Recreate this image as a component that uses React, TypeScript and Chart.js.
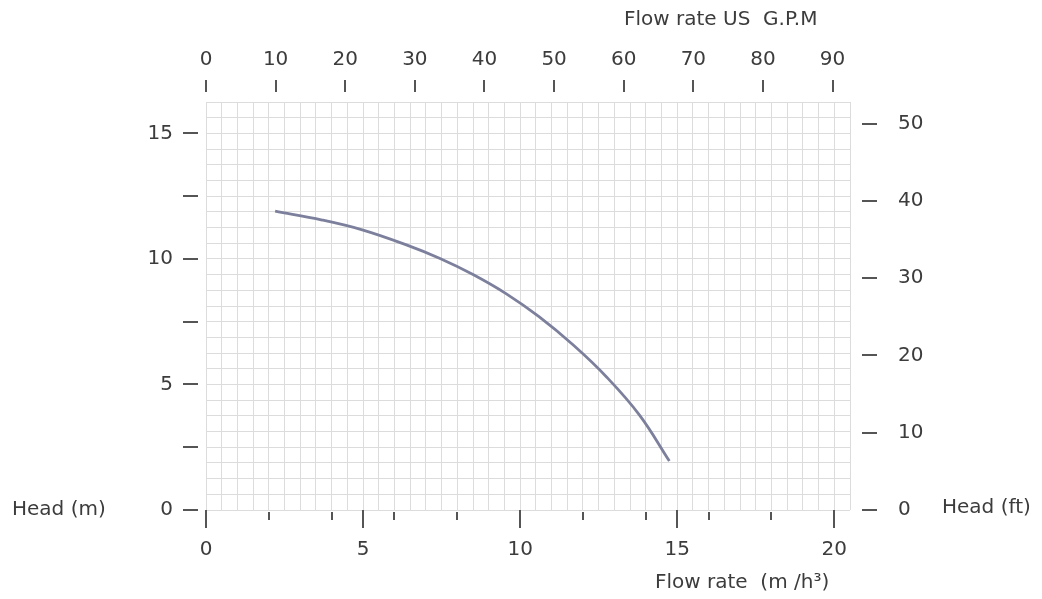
import React, { useEffect, useRef } from 'react';
import { Chart, registerables } from 'chart.js';

Chart.register(...registerables);

// ---- data ----
const flowRate = [2.2, 3.7, 5.0, 6.4, 7.45, 8.5, 9.55, 10.6, 11.7, 12.75, 13.8, 14.75];
const headM = [11.9, 11.55, 11.15, 10.55, 10.02, 9.38, 8.62, 7.7, 6.56, 5.3, 3.78, 1.95];

// ---- tick labels / marks ----
const flowLabels = [0, 5, 10, 15, 20];
const flowMinorTicks = [2, 4, 6, 8, 12, 14, 16, 18];
const gpmTicks = [0, 10, 20, 30, 40, 50, 60, 70, 80, 90];
const headLabels = [0, 5, 10, 15];
const headTicks = [0, 2.5, 5, 7.5, 10, 12.5, 15];
const headFtTicks = [0, 10, 20, 30, 40, 50];

const topTitle = 'Flow rate US  G.P.M';
const bottomTitle = 'Flow rate  (m /h\u00B3)';
const leftTitle = 'Head (m)';
const rightTitle = 'Head (ft)';

const FONT = '"DejaVu Sans", sans-serif';
const TEXT = '#3c3c3c';
const TICK = '#555555';
const GRID = '#dcdcdc';
const LINE = '#7d809c';

const decorations = {
  id: 'decorations',
  afterDraw(chart: any) {
    const ctx = chart.ctx as CanvasRenderingContext2D;
    const { x, x2, y, y2 } = chart.scales;
    const a = chart.chartArea;
    ctx.save();
    ctx.strokeStyle = TICK;
    ctx.lineWidth = 2;
    ctx.beginPath();
    gpmTicks.forEach((v) => {
      const px = Math.round(x2.getPixelForValue(v));
      ctx.moveTo(px, a.top - 22);
      ctx.lineTo(px, a.top - 10);
    });
    flowLabels.forEach((v) => {
      const px = Math.round(x.getPixelForValue(v));
      ctx.moveTo(px, a.bottom);
      ctx.lineTo(px, a.bottom + 18);
    });
    flowMinorTicks.forEach((v) => {
      const px = Math.round(x.getPixelForValue(v));
      ctx.moveTo(px, a.bottom + 2);
      ctx.lineTo(px, a.bottom + 10);
    });
    headTicks.forEach((v) => {
      const py = Math.round(y.getPixelForValue(v));
      ctx.moveTo(a.left - 23, py);
      ctx.lineTo(a.left - 8, py);
    });
    headFtTicks.forEach((v) => {
      const py = Math.round(y2.getPixelForValue(v));
      ctx.moveTo(a.right + 12, py);
      ctx.lineTo(a.right + 27, py);
    });
    ctx.stroke();

    ctx.fillStyle = TEXT;
    ctx.font = `20px ${FONT}`;
    ctx.textBaseline = 'middle';
    ctx.textAlign = 'left';
    ctx.fillText(topTitle, 624, 20);
    ctx.fillText(bottomTitle, 655, 583);
    ctx.fillText(leftTitle, 12, a.bottom);
    ctx.fillText(rightTitle, 942, a.bottom - 2);
    ctx.restore();
  },
};

export default function App() {
  const ref = useRef<HTMLCanvasElement | null>(null);

  useEffect(() => {
    if (!ref.current) return;
    const chart = new Chart(ref.current, {
      type: 'line',
      data: {
        datasets: [
          {
            data: flowRate.map((f, i) => ({ x: f, y: headM[i] })),
            borderColor: LINE,
            borderWidth: 2.8,
            pointRadius: 0,
            tension: 0.4,
            xAxisID: 'x',
            yAxisID: 'y',
          },
        ],
      },
      options: {
        animation: false,
        responsive: false,
        layout: { padding: 0 },
        plugins: { legend: { display: false }, tooltip: { enabled: false } },
        scales: {
          x: {
            type: 'linear',
            position: 'bottom',
            min: 0,
            max: 20.5,
            afterFit: (s: any) => { s.height = 89; },
            grid: { color: GRID, lineWidth: 1, drawTicks: false },
            border: { display: false },
            ticks: {
              stepSize: 0.5,
              autoSkip: false,
              maxRotation: 0,
              minRotation: 0,
              padding: 28,
              color: TEXT,
              font: { family: FONT, size: 20 },
              callback: (v: any) => (flowLabels.includes(Number(v)) ? String(v) : ''),
            },
          },
          x2: {
            type: 'linear',
            position: 'top',
            min: 0,
            max: 92.5,
            afterFit: (s: any) => { s.height = 102; },
            grid: { display: false, drawTicks: false },
            border: { display: false },
            afterBuildTicks: (s: any) => { s.ticks = gpmTicks.map((v) => ({ value: v })); },
            ticks: {
              autoSkip: false,
              maxRotation: 0,
              minRotation: 0,
              padding: 30,
              color: TEXT,
              font: { family: FONT, size: 20 },
            },
          },
          y: {
            type: 'linear',
            position: 'left',
            min: 0,
            max: 16.25,
            afterFit: (s: any) => { s.width = 206; },
            grid: { color: GRID, lineWidth: 1, drawTicks: false },
            border: { display: false },
            ticks: {
              stepSize: 0.625,
              autoSkip: false,
              padding: 33,
              color: TEXT,
              font: { family: FONT, size: 20 },
              callback: (v: any) => (headLabels.includes(Number(v)) ? String(v) : ''),
            },
          },
          y2: {
            type: 'linear',
            position: 'right',
            min: 0,
            max: 52.8,
            afterFit: (s: any) => { s.width = 192; },
            grid: { display: false, drawTicks: false },
            border: { display: false },
            afterBuildTicks: (s: any) => { s.ticks = headFtTicks.map((v) => ({ value: v })); },
            ticks: {
              autoSkip: false,
              padding: 48,
              color: TEXT,
              font: { family: FONT, size: 20 },
            },
          },
        },
      },
      plugins: [decorations],
    } as any);
    return () => chart.destroy();
  }, []);

  return (
    <div style={{ position: 'fixed', left: 0, top: 0, width: 1042, height: 599, background: '#fff' }}>
      <canvas ref={ref} width={1042} height={599} style={{ display: 'block' }} />
    </div>
  );
}
